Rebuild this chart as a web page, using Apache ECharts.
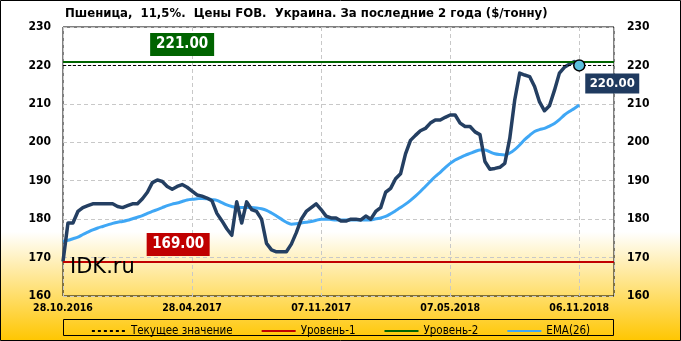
<!DOCTYPE html>
<html>
<head>
<meta charset="utf-8">
<script src="https://cdn.jsdelivr.net/npm/echarts@6/dist/echarts.min.js"></script>
<style>
html,body{margin:0;padding:0;background:#fff;}
#chart{width:681px;height:341px;}
</style>
</head>
<body>
<div id="chart"></div>
<script>
// ---- data ----
var dateLabels = ['28.10.2016', '28.04.2017', '07.11.2017', '07.05.2018', '06.11.2018'];
var yTicks = [160, 170, 180, 190, 200, 210, 220, 230];
var price = [
  169, 179, 179, 182, 183, 183.5, 184, 184, 184, 184,
  184, 183.3, 183, 183.5, 184, 184, 185.3, 187, 189.5, 190.2,
  189.8, 188.5, 187.8, 188.5, 189, 188.3, 187.3, 186.3, 186, 185.5,
  184.8, 181.5, 179.6, 177.5, 175.8, 184.5, 179, 184.5, 182.5, 182,
  180, 173.7, 172, 171.5, 171.5, 171.5, 173.5, 176.5, 180, 182,
  183, 184, 182.5, 180.8, 180.3, 180.3, 179.5, 179.5, 180, 180,
  179.8, 180.8, 180, 182, 183, 187, 188, 190.5, 191.8, 197,
  200.5, 201.8, 203, 203.6, 205, 205.8, 205.8, 206.5, 207.1, 207.1,
  205, 204.1, 204.1, 202.7, 202, 195, 193, 193.2, 193.5, 194.5,
  201, 211, 218, 217.5, 217.1, 214.5, 210.5, 208.2, 209.5, 213.5,
  218, 219.5, 220.3, 221, 220
];
var ema26 = [
  174.2, 174.5, 174.9, 175.3, 176, 176.6, 177.2, 177.7, 178.1, 178.5,
  178.9, 179.2, 179.4, 179.7, 180.1, 180.5, 180.9, 181.5, 182, 182.5,
  183, 183.5, 183.9, 184.2, 184.6, 185, 185.2, 185.3, 185.4, 185.3,
  185.1, 184.9, 184.3, 183.7, 183.3, 183, 183, 183, 183, 182.9,
  182.7, 182.3, 181.6, 180.8, 180, 179.2, 178.7, 178.8, 179, 179.2,
  179.4, 179.7, 180, 180, 179.9, 179.8, 179.8, 179.8, 179.8, 179.8,
  179.8, 179.8, 179.8, 180.1, 180.3, 180.7, 181.4, 182.2, 183, 183.9,
  184.9, 186, 187.2, 188.5, 189.8, 191.1, 192.2, 193.4, 194.5, 195.4,
  196, 196.6, 197.1, 197.6, 198, 198, 197.5, 197, 196.8, 196.7,
  197.2, 198.1, 199.3, 200.7, 201.8, 202.8, 203.3, 203.6, 204.2, 204.9,
  205.9, 207.1, 208, 208.8, 209.7
];
var currentValue = 220;
var level1 = 169;
var level2 = 221;
var seriesNames = ['Текущее значение', 'Уровень-1', 'Уровень-2', 'EMA(26)'];
var titleText = 'Пшеница,  11,5%.  Цены FOB.  Украина. За последние 2 года ($/тонну)';

// ---- chart ----
var FONT = '"DejaVu Sans Condensed", "DejaVu Sans", sans-serif';
var labelStep = 26;
var xMax = 111;

var priceData = price.map(function (v, i) { return [i, v]; });
var emaData = ema26.map(function (v, i) { return [i, v]; });
var lastIdx = price.length - 1;

var chart = echarts.init(document.getElementById('chart'), null, {renderer: 'canvas'});

var option = {
  animation: false,
  backgroundColor: 'transparent',
  textStyle: {fontFamily: FONT},
  graphic: [
    {
      type: 'rect', z: -10, silent: true,
      shape: {x: 0.5, y: 0.5, width: 680, height: 340},
      style: {
        fill: new echarts.graphic.LinearGradient(0, 0, 0, 1, [
          {offset: 0, color: '#ffffff'},
          {offset: 0.68, color: '#ffffff'},
          {offset: 1, color: '#ffc600'}
        ]),
        stroke: '#000', lineWidth: 1
      }
    },
    {
      type: 'rect', z: -5, silent: true,
      shape: {x: 63.5, y: 319.5, width: 550, height: 16},
      style: {fill: 'transparent', stroke: '#000', lineWidth: 1}
    },
    {
      type: 'text', z: 100, silent: true,
      left: 70, top: 257,
      style: {text: 'IDK.ru', font: '21px "DejaVu Sans", sans-serif', fill: '#000'}
    },
    {
      type: 'text', z: 100, silent: true,
      left: 65, top: 7,
      style: {text: titleText, font: 'bold 13px ' + FONT, fill: '#000'}
    }
  ],
  grid: {
    left: 63, right: 67, top: 27, bottom: 45,
    show: true, borderColor: '#000', borderWidth: 1, backgroundColor: 'transparent'
  },
  legend: {
    data: seriesNames,
    left: 'center',
    top: 320,
    itemWidth: 34,
    itemHeight: 12,
    itemGap: 28,
    itemStyle: {opacity: 0},
    textStyle: {fontFamily: FONT, fontSize: 11.5, color: '#000'}
  },
  xAxis: {
    type: 'value',
    min: 0, max: xMax, interval: labelStep,
    axisLine: {show: false},
    axisTick: {show: false},
    axisLabel: {
      margin: 7,
      fontFamily: FONT, fontSize: 10.5, fontWeight: 'bold', color: '#000',
      showMinLabel: true, showMaxLabel: true,
      formatter: function (v) {
        if (v % labelStep === 0 && dateLabels[v / labelStep]) return dateLabels[v / labelStep];
        return '';
      }
    },
    splitLine: {show: true, lineStyle: {color: '#c8c8c8', type: [4, 3], width: 1}}
  },
  yAxis: [
    {
      type: 'value', min: yTicks[0], max: yTicks[yTicks.length - 1], interval: 10,
      position: 'left',
      axisLine: {show: false}, axisTick: {show: false},
      axisLabel: {margin: 12, fontFamily: FONT, fontSize: 12, fontWeight: 'bold', color: '#000'},
      splitLine: {show: true, lineStyle: {color: '#c8c8c8', type: [4, 3], width: 1}}
    },
    {
      type: 'value', min: yTicks[0], max: yTicks[yTicks.length - 1], interval: 10,
      position: 'right',
      axisLine: {show: false}, axisTick: {show: false},
      axisLabel: {margin: 13, fontFamily: FONT, fontSize: 12, fontWeight: 'bold', color: '#000'},
      splitLine: {show: false}
    }
  ],
  series: [
    {
      name: seriesNames[0], type: 'line', data: [], symbol: 'none',
      lineStyle: {color: '#000', width: 1, type: [3, 3]},
      itemStyle: {color: '#000'},
      markLine: {
        silent: true, symbol: 'none', label: {show: false},
        lineStyle: {color: '#000', width: 1, type: [3, 2]},
        data: [{yAxis: currentValue}]
      }
    },
    {
      name: seriesNames[1], type: 'line', data: [], symbol: 'none',
      lineStyle: {color: '#c00000', width: 3},
      itemStyle: {color: '#c00000'},
      markLine: {
        silent: true, symbol: 'none', label: {show: false},
        lineStyle: {color: '#c00000', width: 2, type: 'solid'},
        data: [{yAxis: level1}]
      },
      markPoint: {
        silent: true,
        data: [{
          coord: [23.2, level1],
          symbol: 'rect', symbolSize: [63, 23], symbolOffset: [0, -17],
          itemStyle: {color: '#c00000'},
          label: {show: true, position: 'inside', formatter: level1.toFixed(2),
            color: '#fff', fontFamily: FONT, fontWeight: 'bold', fontSize: 15}
        }]
      }
    },
    {
      name: seriesNames[2], type: 'line', data: [], symbol: 'none',
      lineStyle: {color: '#006400', width: 3},
      itemStyle: {color: '#006400'},
      markLine: {
        silent: true, symbol: 'none', label: {show: false},
        lineStyle: {color: '#006400', width: 2, type: 'solid'},
        data: [{yAxis: level2}]
      },
      markPoint: {
        silent: true,
        data: [{
          coord: [24, level2],
          symbol: 'rect', symbolSize: [64, 23], symbolOffset: [0, -17],
          itemStyle: {color: '#006400'},
          label: {show: true, position: 'inside', formatter: level2.toFixed(2),
            color: '#fff', fontFamily: FONT, fontWeight: 'bold', fontSize: 15}
        }]
      }
    },
    {
      name: seriesNames[3], type: 'line', data: emaData, symbol: 'none', smooth: 0.3,
      lineStyle: {color: '#3fa7f5', width: 3},
      itemStyle: {color: '#3fa7f5'},
      z: 3
    },
    {
      name: 'Цена', type: 'line', data: priceData, symbol: 'none',
      lineStyle: {color: '#243f62', width: 3.5, join: 'round'},
      itemStyle: {color: '#243f62'},
      z: 4,
      markPoint: {
        silent: true,
        data: [
          {
            coord: [lastIdx, price[lastIdx]],
            symbol: 'rect', symbolSize: [54, 20], symbolOffset: [33, 18],
            itemStyle: {color: '#1f3a5f'},
            label: {show: true, position: 'inside', formatter: price[lastIdx].toFixed(2),
              color: '#fff', fontFamily: FONT, fontWeight: 'bold', fontSize: 13}
          },
          {
            coord: [lastIdx, price[lastIdx]],
            symbol: 'circle', symbolSize: 11,
            itemStyle: {color: '#5bc0de', borderColor: '#000', borderWidth: 1.5},
            label: {show: false}
          }
        ]
      }
    }
  ]
};
chart.setOption(option);
</script>
</body>
</html>
